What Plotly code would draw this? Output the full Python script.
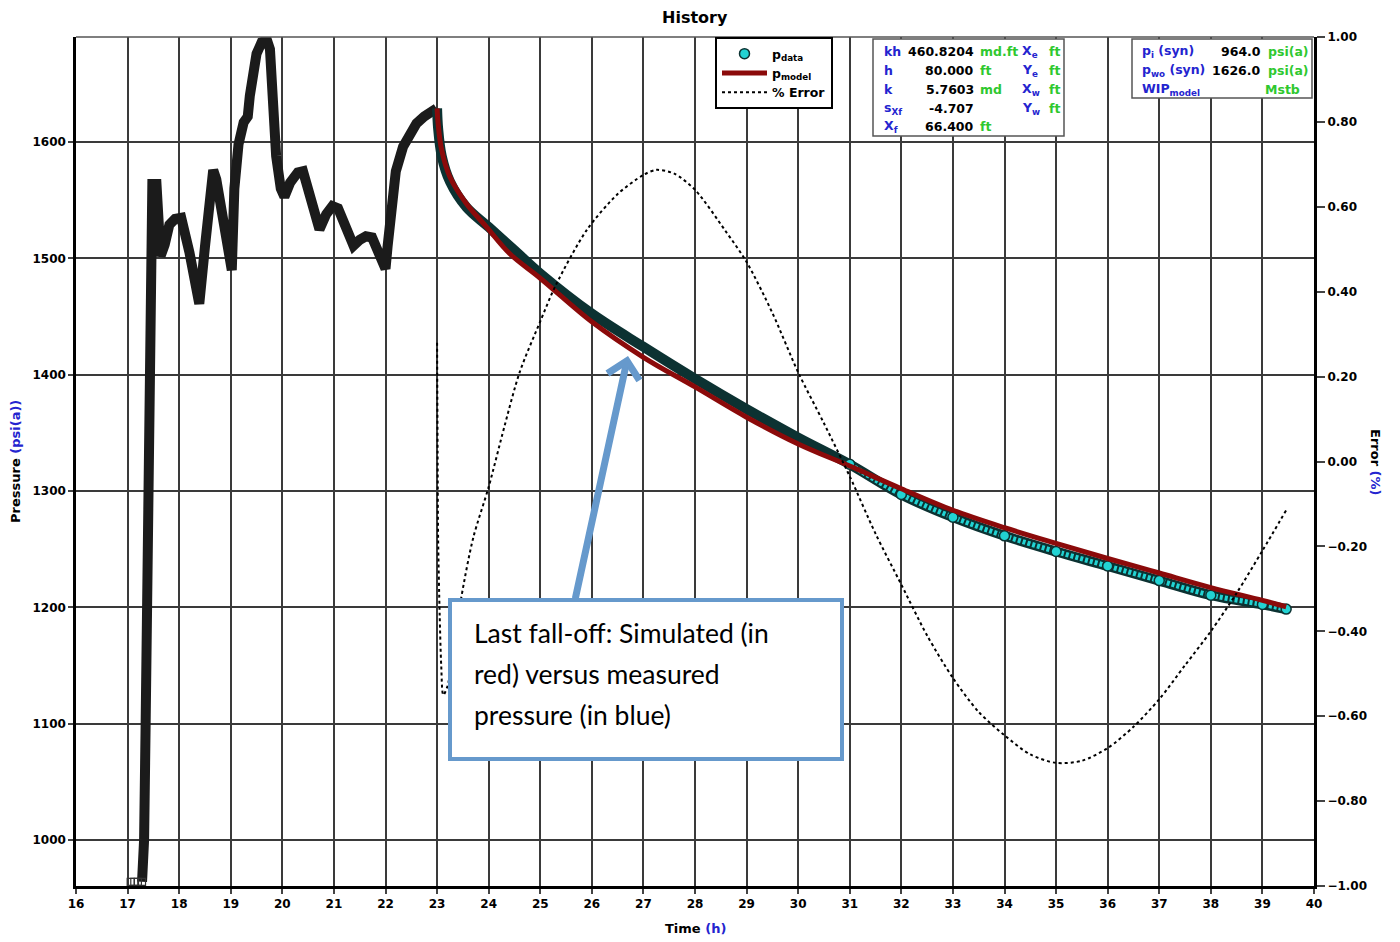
import plotly.graph_objects as go

# ---------------- data ----------------
hist_t = [17.06, 17.13, 17.2, 17.28, 17.32, 17.35, 17.37, 17.39, 17.41, 17.43, 17.45, 17.48, 17.56,
          17.59, 17.64, 17.72, 17.81, 17.92, 18.04, 18.2, 18.39, 18.5, 18.58, 18.66, 18.72, 18.85,
          19.02, 19.07, 19.15, 19.25, 19.33, 19.37, 19.42, 19.5, 19.6, 19.7, 19.76, 19.81, 19.88,
          19.97, 20.04, 20.15, 20.3, 20.4, 20.55, 20.72, 20.85, 20.97, 21.08, 21.22, 21.38, 21.5,
          21.62, 21.74, 21.86, 22.0, 22.04, 22.08, 22.13, 22.2, 22.34, 22.47, 22.6, 22.75, 22.89, 22.99]
hist_p = [964, 964, 964, 964, 1000, 1100, 1200, 1300, 1400, 1470, 1540, 1564, 1564,
          1520, 1502, 1512, 1529, 1534, 1535, 1505, 1461, 1510, 1555, 1576, 1568, 1535,
          1490, 1560, 1598, 1617, 1622, 1640, 1660, 1676, 1686, 1688, 1680, 1625, 1588,
          1560, 1553, 1565, 1574, 1575, 1548, 1525, 1538, 1545, 1543, 1527, 1511, 1516,
          1519, 1518, 1503, 1491, 1510, 1530, 1556, 1575, 1596, 1608, 1616, 1622, 1626, 1629]

data_t = [23.0, 23.02, 23.09, 23.25, 23.57, 24.0, 24.5, 25, 26, 27, 28, 29, 30, 31, 32, 33, 34,
          35, 36, 37, 38, 39, 39.46]
data_p = [1629, 1612, 1588, 1566, 1544, 1527, 1507, 1487, 1452.5, 1424, 1396.5, 1370.5, 1346,
          1323, 1297, 1277.5, 1261.5, 1248, 1235.5, 1223, 1210.5, 1202.5, 1198.5]

model_t = [23.0, 23.02, 23.09, 23.25, 23.57, 23.96, 24.41, 25, 26, 27, 28, 29, 30, 31, 32, 33,
           34, 35, 36, 37, 38, 39, 39.46]
model_p = [1629, 1616, 1593, 1570, 1547, 1527, 1504, 1483, 1445.5, 1415, 1389.5, 1363.5, 1340.5,
           1321.5, 1302, 1283.5, 1268.5, 1255, 1242, 1229.5, 1217, 1206, 1200.5]

err_t = [23.0, 23.01, 23.02, 23.05, 23.08, 23.12, 23.2, 23.3, 23.47, 23.7, 24.0, 24.3, 24.6, 25.0,
         25.3, 25.9, 26.5, 27.0, 27.25, 27.6, 28.0, 28.58, 29.0, 29.5, 30.0, 30.5, 31.0, 31.5,
         32.0, 32.5, 33.0, 33.5, 34.0, 34.5, 35.0, 35.5, 36.0, 36.5, 37.0, 37.5, 38.0, 38.5,
         39.0, 39.46]
err_v = [0.28, 0.02, -0.18, -0.36, -0.48, -0.55, -0.53, -0.46, -0.32, -0.18, -0.06, 0.08, 0.21,
         0.33, 0.415, 0.545, 0.63, 0.675, 0.687, 0.678, 0.64, 0.545, 0.47, 0.35, 0.21, 0.09,
         -0.035, -0.17, -0.29, -0.41, -0.51, -0.59, -0.645, -0.69, -0.71, -0.705, -0.675, -0.625,
         -0.56, -0.48, -0.40, -0.31, -0.21, -0.115]

x_ticks = list(range(16, 41))
p_ticks = [1000, 1100, 1200, 1300, 1400, 1500, 1600]

table1 = [
    ["kh", "460.8204", "md.ft", "X<sub>e</sub>", "ft"],
    ["h", "80.000", "ft", "Y<sub>e</sub>", "ft"],
    ["k", "5.7603", "md", "X<sub>w</sub>", "ft"],
    ["s<sub>Xf</sub>", "-4.707", "", "Y<sub>w</sub>", "ft"],
    ["X<sub>f</sub>", "66.400", "ft", "", ""],
]
table2 = [
    ["p<sub>i</sub> (syn)", "964.0", "psi(a)"],
    ["p<sub>wo</sub> (syn)", "1626.0", "psi(a)"],
    ["WIP<sub>model</sub>", "", "Mstb"],
]

# ---------------- styling helpers ----------------
W, H = 1400, 942
L, R, T, B = 76, 86, 37, 56
PW, PH = W - L - R, H - T - B


def px(x):
    return (x - L) / PW


def py(y):
    return (H - B - y) / PH


FONT = "DejaVu Sans"
BLUE = "#2424cf"
GREEN = "#2fc82f"
CYAN = "#22d3d3"
DARK = "#0c3232"
RED = "#8b0a0a"
ABLUE = "#6699cc"
SPLIT = 13  # measured points from t=31 on are drawn as a cyan chain

fig = go.Figure()

# history (squares, dense)
fig.add_trace(go.Scatter(x=hist_t[3:], y=hist_p[3:], mode="lines",
                         line=dict(color="#1b1b1b", width=10), showlegend=False, hoverinfo="skip"))
fig.add_trace(go.Scatter(x=hist_t[:4], y=hist_p[:4], mode="markers",
                         marker=dict(symbol="square-open", size=7, color="#333",
                                     line=dict(width=1.2)), showlegend=False, hoverinfo="skip"))

# measured data band
fig.add_trace(go.Scatter(x=data_t, y=data_p, mode="lines",
                         line=dict(color=DARK, width=10, shape="spline"), showlegend=False, hoverinfo="skip"))
fig.add_trace(go.Scatter(x=data_t[SPLIT:], y=data_p[SPLIT:], mode="lines",
                         line=dict(color=CYAN, width=5, shape="spline", dash="3px,2px"),
                         showlegend=False, hoverinfo="skip"))
fig.add_trace(go.Scatter(x=data_t[SPLIT:], y=data_p[SPLIT:], mode="markers", name="p<sub>data</sub>",
                         marker=dict(symbol="circle", size=10, color=CYAN,
                                     line=dict(color=DARK, width=1.5))))
# model
fig.add_trace(go.Scatter(x=model_t, y=model_p, mode="lines", name="p<sub>model</sub>",
                         line=dict(color=RED, width=5, shape="spline")))
# error
fig.add_trace(go.Scatter(x=err_t, y=err_v, yaxis="y2", mode="lines", name="% Error",
                         line=dict(color="black", width=2, dash="dot", shape="spline", smoothing=0.8)))

tickfont = dict(family=FONT, size=12, color="black", weight="bold")

fig.update_layout(
    width=W, height=H,
    margin=dict(l=L, r=R, t=T, b=B),
    paper_bgcolor="white", plot_bgcolor="white",
    showlegend=True,
    legend=dict(x=px(715), y=py(37), xanchor="left", yanchor="top", bgcolor="white",
                bordercolor="black", borderwidth=2, itemwidth=45, tracegroupgap=0,
                font=dict(family=FONT, size=12.5, color="black", weight="bold")),
    xaxis=dict(range=[16, 40], tickvals=x_ticks, showgrid=True, gridcolor="#3a3a3a", gridwidth=1.5,
               showline=True, linecolor="black", linewidth=2.5, ticks="outside", ticklen=5,
               tickwidth=1.5, tickfont=tickfont, zeroline=False),
    yaxis=dict(range=[960.4, 1690.4], tickvals=p_ticks, showgrid=True, gridcolor="#3a3a3a",
               gridwidth=1.5, showline=True, linecolor="black", linewidth=2.5, ticks="outside",
               ticklen=5, tickwidth=1.5, tickfont=tickfont, zeroline=False),
    yaxis2=dict(range=[-1, 1], overlaying="y", side="right", tick0=-1, dtick=0.2, tickformat=".2f",
                showgrid=False, showline=True, linecolor="black", linewidth=3, ticks="outside",
                ticklen=8, tickwidth=1.5, tickfont=tickfont, zeroline=False),
)

shapes = []
annotations = []

# top border
shapes.append(dict(type="line", xref="paper", yref="paper", x0=0, x1=1, y0=1, y1=1,
                   line=dict(color="#555", width=1.5)))

# titles
annotations.append(dict(text="<b>History</b>", xref="paper", yref="paper", x=0.5, y=py(17),
                        showarrow=False, xanchor="center", yanchor="middle",
                        font=dict(family=FONT, size=16, color="black")))
annotations.append(dict(text="<b>Time <span style='color:%s'>(h)</span></b>" % BLUE, xref="paper",
                        yref="paper", x=px(695), y=py(929), showarrow=False, xanchor="center",
                        yanchor="middle", font=dict(family=FONT, size=13, color="black")))
annotations.append(dict(text="<b>Pressure <span style='color:%s'>(psi(a))</span></b>" % BLUE,
                        xref="paper", yref="paper", x=px(15), y=py(462), showarrow=False,
                        textangle=-90, xanchor="center", yanchor="middle",
                        font=dict(family=FONT, size=13, color="black")))
annotations.append(dict(text="<b>Error <span style='color:%s'>(%%)</span></b>" % BLUE,
                        xref="paper", yref="paper", x=px(1376), y=py(462), showarrow=False,
                        textangle=90, xanchor="center", yanchor="middle",
                        font=dict(family=FONT, size=13, color="black")))

# parameter table 1
shapes.append(dict(type="rect", xref="paper", yref="paper", x0=px(873), x1=px(1064), y0=py(136),
                   y1=py(39), line=dict(color="#555", width=1.5), fillcolor="white", layer="above"))
row_y = [51, 70, 89, 108, 127]
cols = [(882, "left", BLUE), (976, "right", "black"), (978, "left", GREEN), (1020, "left", BLUE),
        (1047, "left", GREEN)]
for r, row in enumerate(table1):
    for c, txt in enumerate(row):
        if not txt:
            continue
        x, anc, col = cols[c]
        annotations.append(dict(text="<b>%s</b>" % txt, xref="paper", yref="paper", x=px(x),
                                y=py(row_y[r]), showarrow=False, xanchor=anc, yanchor="middle",
                                font=dict(family=FONT, size=12.5, color=col)))

# parameter table 2
shapes.append(dict(type="rect", xref="paper", yref="paper", x0=px(1132), x1=px(1312), y0=py(98),
                   y1=py(39), line=dict(color="#555", width=1.5), fillcolor="white", layer="above"))
row_y2 = [51, 70, 89]
cols2 = [(1140, "left", BLUE), (1263, "right", "black"), (1266, "left", GREEN)]
for r, row in enumerate(table2):
    for c, txt in enumerate(row):
        if not txt:
            continue
        x, anc, col = cols2[c]
        if r == 2 and c == 2:
            x, anc = 1302, "right"
        annotations.append(dict(text="<b>%s</b>" % txt, xref="paper", yref="paper", x=px(x),
                                y=py(row_y2[r]), showarrow=False, xanchor=anc, yanchor="middle",
                                font=dict(family=FONT, size=12.5, color=col)))

# callout box
shapes.append(dict(type="rect", xref="paper", yref="paper", x0=px(450), x1=px(842), y0=py(759),
                   y1=py(600), line=dict(color=ABLUE, width=4), fillcolor="white", layer="above"))
lines = ["Last fall-off: Simulated (in", "red) versus measured", "pressure (in blue)"]
for i, ln in enumerate(lines):
    annotations.append(dict(text=ln, xref="paper", yref="paper", x=px(472), y=py(633 + 41 * i),
                            showarrow=False, xanchor="left", yanchor="middle",
                            font=dict(family="Lato", size=26.5, color="black")))
# arrow (tail offset in pixels)
annotations.append(dict(text="", xref="paper", yref="paper", x=px(628), y=py(356),
                        ax=575 - 628, ay=600 - 356, axref="pixel", ayref="pixel", showarrow=True,
                        arrowhead=4, arrowsize=0.9, arrowwidth=7, arrowcolor=ABLUE, standoff=0))

fig.update_layout(shapes=shapes, annotations=annotations)
fig.write_html("out.html")
